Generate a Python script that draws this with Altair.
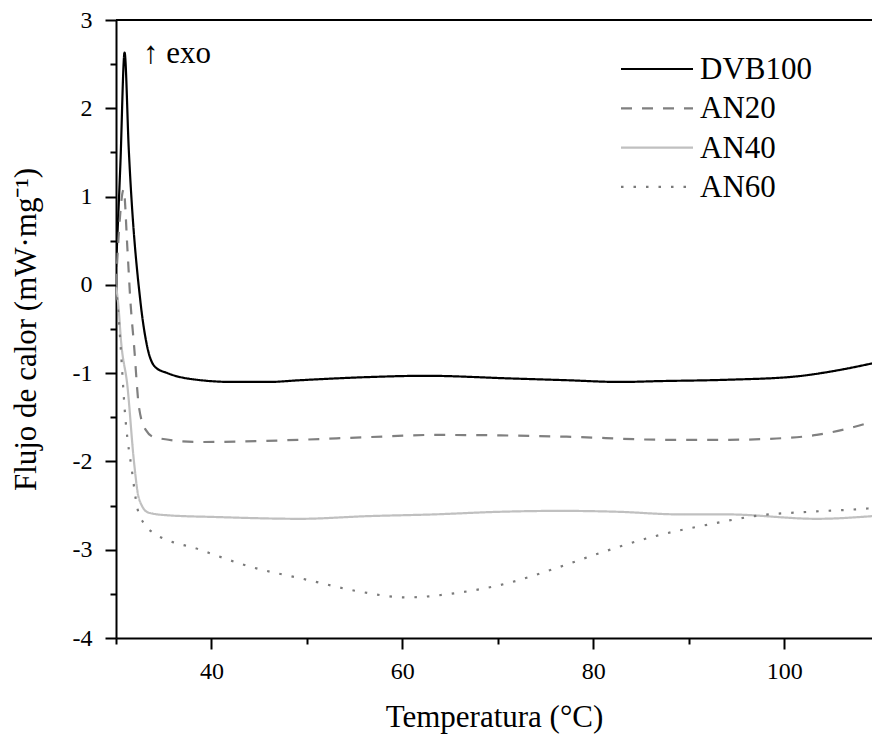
import altair as alt
import pandas as pd

series = ["DVB100", "AN20", "AN40", "AN60"]
colors = ["#000000", "#808080", "#c0c0c0", "#7a7a7a"]
dashes = [[1, 0], [11, 10], [1, 0], [2.5, 10]]

dvb100_x = [30.0, 30.45, 30.9, 31.34, 32.57, 33.27, 34.1, 35.4, 38.1, 42.3, 45.9, 49.3, 56.3, 62.4, 71.3, 77.2, 82.8, 87.0, 94.0, 101.0, 105.5, 109.2]
dvb100_y = [0.2, 1.34, 2.63, 1.53, -0.2, -0.7, -0.93, -1.0, -1.07, -1.1, -1.1, -1.08, -1.045, -1.03, -1.06, -1.08, -1.1, -1.09, -1.075, -1.04, -0.97, -0.89]

an20_x = [30.0, 30.3, 30.8, 31.2, 31.5, 31.9, 32.4, 33.1, 34.1, 38.8, 49.3, 56.3, 63.3, 70.3, 77.2, 87.7, 94.0, 99.2, 103.4, 107.3, 109.2]
an20_y = [0.0, 0.59, 1.08, 0.40, -0.17, -0.70, -1.38, -1.64, -1.73, -1.78, -1.755, -1.725, -1.70, -1.705, -1.72, -1.755, -1.755, -1.74, -1.70, -1.61, -1.55]

an40_x = [30.0, 30.3, 30.5, 31.2, 31.9, 32.4, 33.4, 35.4, 40.6, 49.3, 56.3, 63.3, 70.3, 76.6, 82.5, 89.1, 94.0, 103.4, 109.2]
an40_y = [0.0, -0.3, -0.6, -1.15, -2.02, -2.42, -2.58, -2.61, -2.63, -2.65, -2.62, -2.60, -2.57, -2.56, -2.57, -2.60, -2.60, -2.65, -2.62]

an60_x = [30.0, 30.3, 31.0, 31.7, 32.2, 32.9, 33.8, 38.8, 44.0, 50.0, 55.3, 60.5, 65.7, 71.0, 75.8, 80.9, 86.0, 92.3, 97.5, 102.7, 107.9, 109.2]
an60_y = [0.0, -0.4, -1.53, -2.13, -2.51, -2.70, -2.80, -3.0, -3.19, -3.34, -3.47, -3.54, -3.49, -3.38, -3.22, -3.03, -2.86, -2.71, -2.61, -2.57, -2.54, -2.53]

x_ticks = [30, 40, 50, 60, 70, 80, 90, 100]
y_ticks = [-4, -3.5, -3, -2.5, -2, -1.5, -1, -0.5, 0, 0.5, 1, 1.5, 2, 2.5, 3]

x_title = "Temperatura (°C)"
y_title = "Flujo de calor (mW·mg⁻¹)"
annotation = "↑ exo"

FONT = "Liberation Serif"
W, H = 756, 618

rows = []
for name, xs, ys in [("DVB100", dvb100_x, dvb100_y), ("AN20", an20_x, an20_y),
                     ("AN40", an40_x, an40_y), ("AN60", an60_x, an60_y)]:
    for i, (xv, yv) in enumerate(zip(xs, ys)):
        rows.append({"series": name, "T": xv, "flux": yv, "order": i})
df = pd.DataFrame(rows)

color_scale = alt.Scale(domain=series, range=colors)
dash_scale = alt.Scale(domain=series, range=dashes)

x_axis = alt.Axis(
    values=x_ticks,
    labelExpr="datum.value >= 40 && datum.value % 20 == 0 ? '' + datum.value : ''",
    tickSize={"condition": {"test": "datum.value % 20 == 0", "value": 11}, "value": 6},
    labelPadding=10, labelFont=FONT, labelFontSize=24, labelColor="black",
    domainColor="black", domainWidth=2, tickColor="black", tickWidth=2,
    grid=False, title=x_title, titleFont=FONT, titleFontSize=31, titleFontWeight="normal",
    titleColor="black", titleX=W / 2, titleY=88, titleAlign="center", titleBaseline="alphabetic",
)
y_axis = alt.Axis(
    values=y_ticks,
    labelExpr="datum.value % 1 == 0 ? '' + datum.value : ''",
    tickSize={"condition": {"test": "datum.value % 1 == 0", "value": 11}, "value": 6},
    labelPadding=13, labelFont=FONT, labelFontSize=24, labelColor="black",
    domainColor="black", domainWidth=2, tickColor="black", tickWidth=2,
    grid=False, title=y_title, titleFont=FONT, titleFontSize=31, titleFontWeight="normal",
    titleColor="black", titleX=-90, titleY=H / 2, titleAngle=-90, titleAlign="center",
    titleBaseline="middle",
)

lines = alt.Chart(df).mark_line(strokeWidth=2.2, clip=True, interpolate="monotone").encode(
    x=alt.X("T:Q", scale=alt.Scale(domain=[30, 109.2], nice=False, zero=False), axis=x_axis),
    y=alt.Y("flux:Q", scale=alt.Scale(domain=[-4, 3], nice=False, zero=False), axis=y_axis),
    color=alt.Color("series:N", scale=color_scale, legend=None),
    strokeDash=alt.StrokeDash("series:N", scale=dash_scale, legend=None),
    detail="series:N",
    order="order:Q",
)

top_border = alt.Chart(pd.DataFrame({"a": [0]})).mark_rule(color="black", strokeWidth=2).encode(
    x=alt.value(0), x2=alt.value(W), y=alt.value(0)
)

leg_df = pd.DataFrame({"series": series, "idx": list(range(len(series)))})
leg_base = alt.Chart(leg_df).transform_calculate(ly="49 + 39.3 * datum.idx", ty="59 + 39.3 * datum.idx")
leg_lines = leg_base.mark_rule(strokeWidth=2.2).encode(
    x=alt.value(505), x2=alt.value(577),
    y=alt.Y("ly:Q", scale=None),
    color=alt.Color("series:N", scale=color_scale, legend=None),
    strokeDash=alt.StrokeDash("series:N", scale=dash_scale, legend=None),
)
leg_text = leg_base.mark_text(align="left", baseline="alphabetic", font=FONT, fontSize=31, color="black").encode(
    x=alt.value(584), y=alt.Y("ty:Q", scale=None), text="series:N"
)

annot = alt.Chart(pd.DataFrame({"t": [annotation]})).mark_text(
    align="left", baseline="alphabetic", font=FONT, fontSize=31, color="black"
).encode(x=alt.value(27), y=alt.value(43), text="t:N")

chart = alt.layer(lines, top_border, leg_lines, leg_text, annot).properties(
    width=W, height=H,
    autosize=alt.AutoSizeParams(type="none"),
    padding={"left": 116, "top": 20, "right": 0, "bottom": 100},
    background="white",
).configure_view(stroke=None)

chart.save("out.html", embed_options={"renderer": "svg", "actions": False})
